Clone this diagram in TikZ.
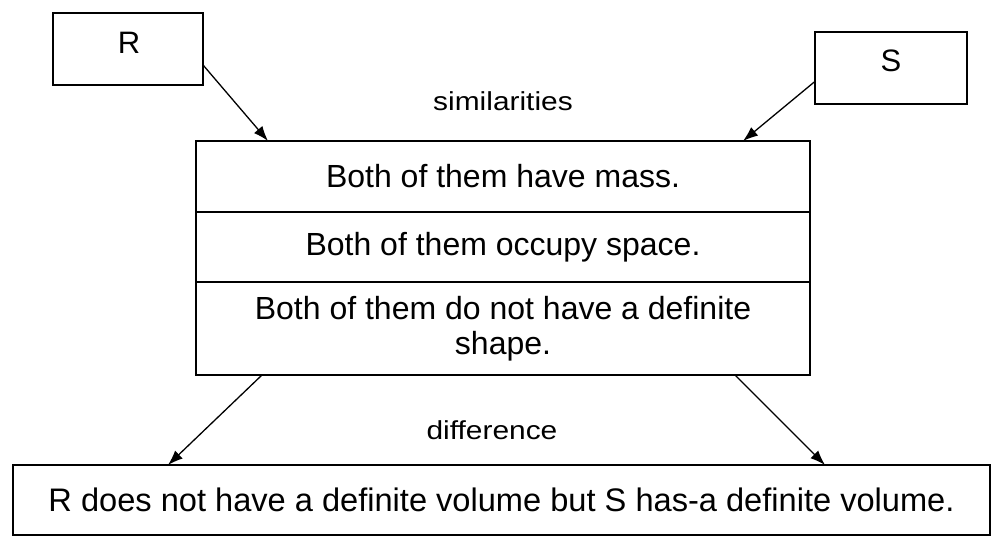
\documentclass[tikz,border=0pt]{standalone}
\usepackage{fontspec}
\setmainfont{Liberation Sans}
\usetikzlibrary{arrows.meta,calc}
\begin{document}
\begin{tikzpicture}[x=1pt,y=-1pt,
  box/.style={draw, line width=1.6pt, inner sep=0pt, outer sep=0pt,
    font=\fontsize{32}{35}\selectfont},
  txt/.style={inner sep=0pt, font=\fontsize{31}{35}\selectfont},
  lbl/.style={inner sep=0pt, font=\fontsize{26}{30}\selectfont},
  arr/.style={-{Latex[length=15pt,width=11pt]}, line width=1.3pt}]
\useasboundingbox (0,0) rectangle (994,548);
% top boxes
\node[box, minimum width=150pt, minimum height=72pt] (R) at (128,49) {};
\node[txt] (Rt) at (129,43) {R};
\node[box, minimum width=152pt, minimum height=72pt] (S) at (891,68) {};
\node[txt] (St) at (891,61) {S};
% label
\node[lbl] (sim) at (503,101) {\scalebox{1.15}[1]{similarities}};
% middle table
\node[box, minimum width=614pt, minimum height=71pt] (m1) at (503,176.5) {\raisebox{-6pt}{Both of them have mass.}};
\node[box, minimum width=614pt, minimum height=70pt] (m2) at (503,247) {Both of them occupy space.};
\node[box, minimum width=614pt, minimum height=93pt, align=center] (m3) at (503,328.5)
  {Both of them do not have a definite\\shape.};
% difference label
\node[lbl] (dif) at (492,430) {\scalebox{1.15}[1]{difference}};
% bottom box
\node[box, minimum width=977pt, minimum height=70pt, font=\fontsize{32.6}{36}\selectfont] (bot) at (501.5,500)
  {R does not have a definite volume but S has-a definite volume.};
% connectors
\coordinate (mR) at ($(m1.north west)+(72,0)$);
\coordinate (mS) at ($(m1.north west)+(547,0)$);
\coordinate (dL) at ($(m3.south west)+(66,0)$);
\coordinate (dR) at ($(m3.south west)+(539,0)$);
\coordinate (bL) at ($(bot.north west)+(155,0)$);
\coordinate (bR) at ($(bot.north west)+(812,0)$);
\draw[arr] (R.-12) -- (mR);
\draw[arr] (S.190) -- (mS);
\draw[arr] (dL) -- (bL);
\draw[arr] (dR) -- (bR);
\end{tikzpicture}
\end{document}
